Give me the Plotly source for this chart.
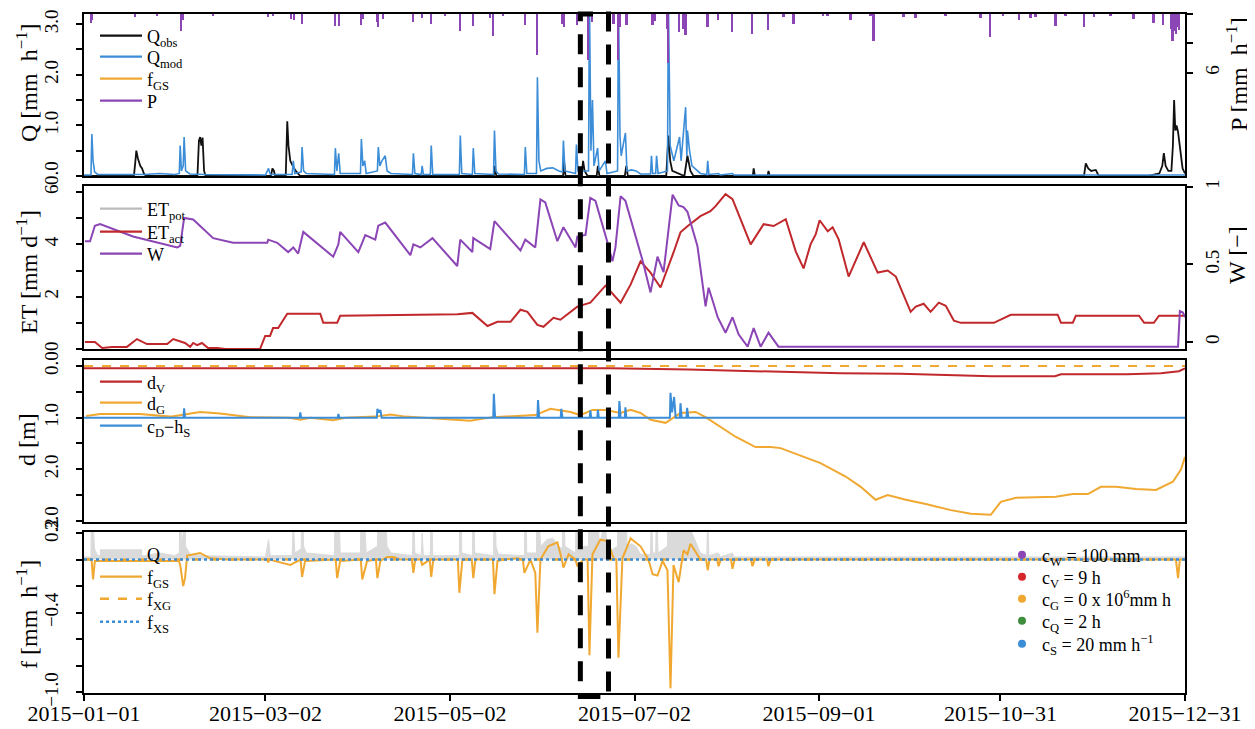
import pandas as pd
import plotly.graph_objects as go

BASE = pd.Timestamp("2015-01-01")

# ---------------- data (day of year offset from 2015-01-01, value) ----------------
qmod = [(0, 0.02), (2.3, 0.02), (2.6, 0.83), (3.0, 0.3), (3.5, 0.08), (4.5, 0.03), (20, 0.03), (25, 0.05), (30, 0.03),
        (31.5, 0.05), (31.8, 0.6), (32.2, 0.1), (32.8, 0.2), (33.1, 0.77), (33.6, 0.1), (35, 0.04), (40, 0.03), (60, 0.02),
        (61, 0.15), (61.6, 0.03), (68.8, 0.03), (69.2, 0.3), (69.7, 0.05), (71.8, 0.08), (72.1, 0.57), (72.6, 0.1), (73.5, 0.05),
        (82.8, 0.03), (83.1, 0.55), (83.6, 0.1), (84.2, 0.45), (84.7, 0.05), (91.4, 0.05), (91.7, 0.73), (92.2, 0.2), (92.8, 0.3),
        (93.3, 0.05), (97.0, 0.1), (97.3, 0.57), (97.8, 0.2), (98.5, 0.3), (99.6, 0.4), (100.2, 0.1), (101.5, 0.05), (108.6, 0.03),
        (108.9, 0.45), (109.4, 0.05), (111.5, 0.03), (111.8, 0.2), (112.2, 0.03), (114.5, 0.03), (114.8, 0.6), (115.3, 0.03),
        (124.1, 0.03), (124.4, 0.8), (124.9, 0.05), (128.4, 0.03), (128.7, 0.55), (129.2, 0.05), (135.4, 0.03), (135.7, 0.9),
        (136.2, 0.1), (137, 0.04), (145.6, 0.03), (145.9, 0.57), (146.4, 0.05), (149.6, 0.05), (149.9, 1.95), (150.4, 0.3),
        (151, 0.1), (153, 0.15), (155, 0.16), (157, 0.1), (158.2, 0.08), (158.5, 0.7), (159, 0.1), (162.5, 0.05), (162.8, 0.62),
        (163.3, 0.1), (166.8, 0.1), (167.1, 3.5), (167.6, 0.5), (168.1, 1.5), (168.6, 0.2), (169.8, 0.55), (170.3, 0.1),
        (172.4, 0.3), (172.9, 0.05), (176.4, 0.1), (176.7, 3.5), (177.2, 0.8), (177.6, 0.4), (179.0, 0.85), (179.5, 0.1),
        (181, 0.12), (182.5, 0.1), (184, 0.04), (187.3, 0.04), (187.6, 0.4), (188, 0.05), (189.0, 0.05), (189.3, 0.4),
        (189.8, 0.05), (192.9, 0.1), (193.2, 3.5), (193.8, 0.6), (195, 0.3), (196.9, 0.77), (197.4, 0.3), (198.9, 1.36),
        (199.3, 0.4), (199.5, 0.9), (200.2, 0.5), (201, 0.2), (203.8, 0.05), (205.9, 0.03), (206.2, 0.3), (206.6, 0.03),
        (209.8, 0.05), (210.3, 0.02), (214.4, 0.05), (214.9, 0.02), (364, 0.02)]

qobs = [(0, 0.0), (16.5, 0.0), (17.0, 0.3), (17.3, 0.5), (17.8, 0.35), (18.2, 0.25), (18.6, 0.2), (19.2, 0.15), (19.8, 0.05),
        (20.5, 0.0), (37.5, 0.0), (38.0, 0.7), (38.4, 0.77), (38.8, 0.6), (39.2, 0.76), (39.7, 0.1), (40.2, 0.0),
        (61.8, 0.0), (62.3, 0.15), (62.8, 0.1), (63.2, 0.0), (66.7, 0.0), (67.2, 1.08), (67.6, 0.6), (68.2, 0.3), (69, 0.2),
        (70, 0.1), (71.5, 0.0), (135.5, 0.0), (135.8, 0.2), (136.3, 0.0), (158.4, 0.0), (158.7, 0.3), (159.2, 0.0),
        (164.5, 0.0), (165.0, 0.3), (165.5, 0.1), (166.5, 0.0), (169.5, 0.0), (169.9, 0.2), (170.4, 0.0), (178.8, 0.0),
        (179.3, 0.2), (179.8, 0.0), (192.5, 0.0), (193.2, 0.8), (193.8, 0.3), (194.5, 0.1), (198.5, 0.0), (199.5, 0.4),
        (200.5, 0.1), (201.5, 0.0), (221.1, 0.0), (221.4, 0.15), (221.8, 0.0), (226.0, 0.0), (226.3, 0.1), (226.7, 0.0),
        (330.6, 0.0), (331.2, 0.25), (332, 0.15), (333, 0.1), (334.5, 0.12), (335.5, 0.0), (352, 0.0), (355.5, 0.05),
        (356.5, 0.2), (357.0, 0.45), (357.6, 0.2), (358.5, 0.1), (359.5, 0.1), (360.0, 0.6), (360.4, 1.5), (360.8, 0.9),
        (361.2, 1.0), (361.7, 0.87), (362.2, 0.6), (362.6, 0.4), (363.2, 0.15), (364.0, 0.05)]

precip = [(2.3, 0.9), (2.6, 0.6), (16.9, 0.3), (24.2, 0.2), (32.1, 1.7), (32.8, 0.6), (42.7, 0.2), (60.9, 0.3), (62.5, 0.2),
          (68.5, 0.5), (69.5, 0.6), (72.1, 1.0), (83.1, 1.2), (84.4, 1.2), (91.7, 1.1), (92.3, 0.5), (97.0, 0.8), (97.3, 1.3),
          (98.9, 0.5), (108.9, 0.8), (111.8, 0.4), (114.8, 1.0), (119.5, 0.2), (124.4, 1.7), (128.7, 1.2), (134.3, 0.4),
          (135.3, 2.2), (138.7, 0.2), (145.9, 1.1), (149.9, 4.2), (158.2, 1.0), (158.8, 1.3), (163.1, 1.1), (166.8, 4.7),
          (168.1, 0.8), (173.1, 0.5), (175.1, 1.0), (176.7, 4.7), (177.4, 1.3), (179.4, 1.1), (188.0, 1.1), (188.9, 0.7),
          (192.9, 1.5), (193.2, 5.0), (196.9, 1.8), (198.2, 1.5), (198.9, 2.1), (206.2, 1.3), (209.8, 0.6), (214.4, 1.8),
          (221.0, 2.0), (226.3, 1.6), (231.3, 0.3), (234.6, 1.0), (244.5, 0.2), (245.9, 0.2), (253.5, 0.6), (260.1, 0.2),
          (261.1, 2.7), (271.0, 0.3), (275.0, 0.4), (284.9, 0.2), (296.5, 0.4), (299.5, 2.3), (303.8, 0.2), (309.1, 0.6),
          (313.0, 0.4), (314.7, 0.3), (321.3, 1.2), (324.6, 0.2), (330.6, 1.3), (333.9, 0.3), (339.5, 0.2), (347.1, 0.5),
          (353.7, 0.9), (356.7, 1.1), (359.4, 1.5), (360.0, 2.7), (360.4, 1.7), (361.0, 2.0), (361.7, 1.3), (362.0, 1.6)]

wsat = [(0.3, 0.65), (2.0, 0.65), (3.6, 0.75), (5.3, 0.76), (16.2, 0.68), (30.8, 0.61), (31.8, 0.62), (33.1, 0.80),
        (36.1, 0.79), (42.7, 0.67), (49.3, 0.64), (60.6, 0.64), (60.9, 0.66), (63.9, 0.64), (67.5, 0.58), (69.2, 0.61),
        (70.8, 0.57), (72.5, 0.71), (82.4, 0.55), (84.1, 0.63), (84.7, 0.71), (90.7, 0.58), (93.0, 0.69), (94.0, 0.68),
        (96.3, 0.66), (97.3, 0.75), (99.6, 0.77), (107.9, 0.56), (108.9, 0.63), (111.2, 0.61), (115.2, 0.67), (123.4, 0.49),
        (124.4, 0.66), (128.4, 0.58), (128.7, 0.67), (134.3, 0.60), (135.7, 0.78), (144.3, 0.59), (145.9, 0.66),
        (149.2, 0.61), (150.9, 0.92), (152.5, 0.90), (156.5, 0.65), (158.5, 0.74), (162.5, 0.61), (163.1, 0.68),
        (165.8, 0.69), (167.4, 0.93), (169.1, 0.91), (173.1, 0.64), (174.7, 0.52), (175.7, 0.61), (177.4, 0.94),
        (179.0, 0.91), (181.7, 0.73), (184.6, 0.53), (187.3, 0.32), (189.6, 0.55), (191.6, 0.45), (194.6, 0.95),
        (196.6, 0.88), (198.2, 0.87), (199.5, 0.84), (202.8, 0.62), (205.5, 0.23), (206.5, 0.35), (208.1, 0.25),
        (209.5, 0.16), (212.1, 0.06), (214.4, 0.16), (216.4, 0.05), (219.4, -0.03), (221.4, 0.09), (223.7, -0.03),
        (226.3, 0.06), (229.6, -0.03), (361.7, -0.03), (362.3, 0.2), (363.3, 0.19), (364.0, 0.16)]

et_act = [(0.3, 0.27), (3.6, 0.27), (6.0, 0.04), (9.3, 0.08), (14.2, 0.08), (17.5, 0.38), (20.8, 0.19), (27.5, 0.19),
          (29.5, 0.38), (33.4, 0.23), (35.1, 0.08), (36.1, 0.23), (37.4, 0.15), (39.0, 0.23), (41.0, 0.04), (44.0, 0.04),
          (46.7, 0.0), (58.2, 0.0), (59.9, 0.5), (61.5, 0.5), (62.5, 0.8), (64.2, 0.8), (67.2, 1.35), (78.1, 1.35),
          (79.1, 1.0), (83.7, 1.0), (84.7, 1.27), (111.2, 1.33), (123.4, 1.33), (128.4, 1.38), (133.4, 0.88), (136.7, 1.04),
          (141.0, 1.04), (144.3, 1.5), (146.6, 1.42), (149.9, 0.92), (151.9, 0.85), (155.2, 1.19), (157.5, 1.12),
          (163.1, 1.62), (167.4, 1.77), (172.4, 2.42), (177.4, 1.77), (180.7, 2.46), (184.0, 3.35), (187.3, 2.92),
          (190.6, 2.35), (194.9, 3.69), (197.2, 4.46), (199.5, 4.69), (203.8, 5.08), (207.1, 5.27), (208.8, 5.46),
          (212.1, 5.92), (214.4, 5.73), (220.4, 4.0), (224.7, 4.77), (228.0, 4.7), (232.0, 4.96), (235.3, 3.73),
          (237.9, 3.08), (240.2, 4.0), (241.9, 4.38), (243.2, 4.92), (245.9, 4.5), (247.5, 4.65), (249.5, 4.19),
          (252.8, 2.77), (254.5, 3.23), (257.8, 4.08), (262.4, 2.92), (265.7, 3.0), (268.4, 2.77), (273.3, 1.42),
          (275.0, 1.62), (277.6, 1.73), (279.9, 1.42), (282.6, 1.77), (284.9, 1.65), (287.6, 1.08), (289.9, 1.0),
          (300.8, 1.0), (306.4, 1.31), (321.9, 1.31), (323.0, 1.0), (326.9, 1.0), (327.9, 1.27), (348.8, 1.27),
          (350.5, 1.0), (353.7, 1.0), (355.4, 1.27), (364.0, 1.27)]

d_v = [(0, 0.045), (174, 0.045), (200, 0.07), (230, 0.11), (250, 0.14), (270, 0.15), (290, 0.19), (300, 0.2), (321, 0.2),
       (323, 0.16), (345, 0.16), (356, 0.14), (362, 0.1), (364, 0.045)]

d_g = [(0.7, 0.97), (5.3, 0.93), (18.5, 0.93), (28.5, 0.98), (38.4, 0.89), (45, 0.92), (55, 0.99), (68, 1.0), (71.5, 1.04),
       (74.8, 1.0), (82.4, 1.05), (86.4, 1.0), (96.3, 0.98), (101.3, 0.94), (106.2, 0.98), (111.2, 1.0), (121.1, 1.04),
       (127.7, 1.06), (135.0, 0.99), (149.2, 0.95), (154.2, 0.83), (160.8, 0.89), (164.1, 0.95), (168.1, 0.85),
       (172.4, 0.85), (177.4, 0.91), (180.7, 0.85), (184.0, 0.91), (187.3, 1.04), (192.3, 1.1), (197.2, 0.91),
       (202.2, 0.89), (205.5, 0.99), (210.5, 1.18), (215.4, 1.37), (222.0, 1.57), (227.0, 1.57), (230.3, 1.59),
       (236.9, 1.74), (243.5, 1.88), (251.8, 2.14), (256.8, 2.34), (261.7, 2.59), (265.7, 2.5), (271.7, 2.59),
       (278.3, 2.67), (286.6, 2.79), (293.2, 2.86), (299.8, 2.88), (303.1, 2.63), (308.1, 2.55), (321.3, 2.53),
       (326.9, 2.48), (331.9, 2.48), (336.2, 2.34), (341.2, 2.34), (347.8, 2.38), (354.4, 2.4), (360.0, 2.24),
       (362.7, 2.0), (364.0, 1.76)]

cd_hs = [(0, 1.0), (32.9, 1.0), (33.1, 0.82), (33.4, 1.0), (71.3, 1.0), (71.5, 0.9), (71.8, 1.0), (83.9, 1.0), (84.1, 0.93),
         (84.4, 1.0), (96.8, 1.0), (97.0, 0.83), (97.5, 0.9), (98.0, 0.85), (98.4, 1.0), (135.3, 1.0), (135.5, 0.54),
         (135.9, 1.0), (149.9, 1.0), (150.1, 0.66), (150.5, 1.0), (157.6, 1.0), (157.8, 0.83), (158.2, 1.0), (167.2, 1.0),
         (167.4, 0.86), (167.7, 1.0), (169.7, 1.0), (169.9, 0.85), (170.2, 1.0), (176.8, 1.0), (177.0, 0.68), (177.4, 1.0),
         (178.8, 1.0), (179.0, 0.8), (179.3, 1.0), (193.7, 1.0), (193.9, 0.52), (194.4, 0.9), (195.1, 0.6), (195.6, 1.0),
         (197.0, 1.0), (197.2, 0.72), (197.6, 1.0), (199.2, 1.0), (199.4, 0.81), (199.8, 1.0), (364, 1.0)]

f_gs = [(0, 0.0), (2.5, 0.0), (3.0, -0.15), (3.6, -0.01), (31.4, -0.01), (31.8, -0.04), (32.8, -0.2), (33.4, -0.14),
        (34.1, 0.03), (38.4, 0.05), (41.7, 0.01), (47.3, 0.0), (60.5, 0.0), (60.9, -0.02), (61.3, 0.0), (68.2, -0.04),
        (71.6, 0.0), (72.1, -0.13), (73.1, -0.01), (83.2, 0.0), (83.7, -0.14), (84.7, -0.01), (91.5, 0.0), (92.0, -0.15),
        (93.6, -0.01), (96.5, 0.0), (97.0, -0.14), (98.0, -0.01), (100.3, 0.02), (102.3, 0.02), (104.6, 0.0), (108.4, 0.0),
        (108.9, -0.1), (109.5, 0.0), (111.3, 0.0), (111.8, -0.04), (114.3, 0.0), (114.8, -0.13), (115.5, 0.0),
        (123.6, 0.0), (124.1, -0.25), (125.1, 0.0), (128.2, 0.0), (128.7, -0.14), (129.4, 0.0), (135.2, 0.0),
        (135.7, -0.26), (136.7, -0.01), (138.7, 0.0), (143.3, 0.01), (145.1, 0.0), (145.6, -0.1), (147.6, 0.0),
        (149.2, -0.1), (149.9, -0.55), (150.9, 0.0), (153.5, 0.1), (156.5, 0.13), (158.0, 0.0), (158.5, -0.06),
        (160.2, 0.04), (162.5, 0.0), (163.1, -0.05), (165.1, 0.0), (166.5, 0.0), (167.1, -0.72), (168.1, 0.04),
        (170.7, 0.15), (173.1, 0.14), (175.1, 0.01), (176.0, 0.0), (176.7, -0.74), (178.0, 0.01), (180.7, 0.16),
        (184.0, 0.1), (186.6, 0.0), (188.0, -0.11), (189.6, -0.12), (191.3, -0.01), (192.9, -0.08), (193.9, -0.97),
        (194.9, -0.04), (196.6, -0.17), (198.2, 0.07), (199.5, 0.04), (200.5, 0.12), (203.8, 0.0), (205.7, 0.0),
        (206.2, -0.08), (206.8, 0.0), (209.3, 0.0), (209.8, -0.05), (210.5, 0.0), (213.9, 0.0), (214.4, -0.07),
        (215.1, 0.0), (220.5, 0.0), (221.0, -0.05), (221.7, 0.0), (225.8, 0.0), (226.3, -0.05), (227.0, 0.0),
        (361.0, 0.0), (361.7, -0.14), (362.3, 0.0), (364.0, 0.0)]

f_xg = [(0, 0.0), (364, 0.0)]
f_xs = [(0, 0.0), (364, 0.0)]
d_ref = [(0, 0.0), (364, 0.0)]

xtick_dates = ["2015-01-01", "2015-03-02", "2015-05-02", "2015-07-02", "2015-09-01", "2015-10-31", "2015-12-31"]
xtick_text = ["2015\u221201\u221201", "2015\u221203\u221202", "2015\u221205\u221202", "2015\u221207\u221202",
              "2015\u221209\u221201", "2015\u221210\u221231", "2015\u221212\u221231"]
q_ticks = [0, 0.5, 1.0, 1.5, 2.0, 2.5, 3.0]
q_text = ["0.0", "", "1.0", "", "2.0", "", "3.0"]
p_ticks = [0, 3, 6]
p_text = ["0", "", "6"]
et_ticks = [0, 1, 2, 3, 4, 5, 6]
et_text = ["0", "", "2", "", "4", "", "6"]
w_ticks = [0, 0.5, 1]
w_text = ["0", "0.5", "1"]
d_ticks = [0, 0.5, 1.0, 1.5, 2.0, 2.5, 3.0]
d_text = ["0.0", "", "1.0", "", "2.0", "", "3.0"]
f_ticks = [0.2, 0.0, -0.2, -0.4, -0.6, -0.8, -1.0]
f_text = ["0.2", "", "", "\u22120.4", "", "", "\u22121.0"]
window = [164.1, 173.4]

param_labels = ["c<sub>W</sub> = 100 mm", "c<sub>V</sub> = 9 h", "c<sub>G</sub> = 0 x 10<sup>6</sup>mm h",
                "c<sub>Q</sub> = 2 h", "c<sub>S</sub> = 20 mm h<sup>\u22121</sup>"]
param_colors = ["#8B45B5", "#D7262B", "#F0A830", "#3E8E3E", "#3C8DD8"]

# ---------------- helpers ----------------
def xs(series):
    return [BASE + pd.Timedelta(days=float(d)) for d, _ in series]

def ys(series):
    return [v for _, v in series]

C_BLACK = "#111111"
C_BLUE = "#3C8DD8"
C_ORANGE = "#F0A830"
C_PURPLE = "#8B45B5"
C_RED = "#C0282B"
C_GRAY = "#DADADA"
FONT = "Liberation Serif"

# page has an 8px body margin: the figure is sized so the plot area lands at x 84..1185, y 14..693 in the window
OFF = 8
PLOT_L, PLOT_T, PLOT_W, PLOT_H = 84, 14, 1101, 679

def px_x(px):
    return (px - PLOT_L) / PLOT_W

def px_y(py):
    return (PLOT_T + PLOT_H - py) / PLOT_H

fig = go.Figure()
legend_layouts = {}
legend_count = [0]

def new_legend(xpx, ypx, itemwidth=42, bg="rgba(0,0,0,0)"):
    legend_count[0] += 1
    key = "legend" if legend_count[0] == 1 else "legend%d" % legend_count[0]
    legend_layouts[key] = dict(x=px_x(xpx), y=px_y(ypx), xanchor="left", yanchor="middle", bgcolor=bg,
                               font=dict(size=18, family=FONT), itemwidth=itemwidth, borderwidth=0,
                               tracegroupgap=0)
    return key

def legend_line(name, color, xaxis, yaxis, ypx, width=2.2, dash="solid"):
    fig.add_trace(go.Scatter(x=[None], y=[None], mode="lines", line=dict(color=color, width=width, dash=dash),
                             name=name, xaxis=xaxis, yaxis=yaxis, legend=new_legend(95, ypx)))

# ---- panel 1 ----
fig.add_trace(go.Scatter(x=xs(qobs), y=ys(qobs), mode="lines", line=dict(color=C_BLACK, width=1.8),
                         xaxis="x", yaxis="y", showlegend=False))
fig.add_trace(go.Scatter(x=xs(qmod), y=ys(qmod), mode="lines", line=dict(color=C_BLUE, width=1.6),
                         xaxis="x", yaxis="y", showlegend=False))
fig.add_trace(go.Bar(x=xs(precip), y=ys(precip), marker=dict(color=C_PURPLE, line=dict(width=0)),
                     width=0.6 * 86400000, xaxis="x", yaxis="y2", showlegend=False))
for (nm, col), ypx in zip([("Q<sub>obs</sub>", C_BLACK), ("Q<sub>mod</sub>", C_BLUE), ("f<sub>GS</sub>", C_ORANGE),
                           ("P", C_PURPLE)], [36, 57, 79, 101]):
    legend_line(nm, col, "x", "y", ypx)

# ---- panel 2 ----
fig.add_trace(go.Scatter(x=xs(et_act), y=ys(et_act), mode="lines", line=dict(color=C_RED, width=2),
                         xaxis="x2", yaxis="y3", showlegend=False))
fig.add_trace(go.Scatter(x=xs(wsat), y=ys(wsat), mode="lines", line=dict(color=C_PURPLE, width=2),
                         xaxis="x2", yaxis="y4", showlegend=False))
for (nm, col), ypx in zip([("ET<sub>pot</sub>", "#BBBBBB"), ("ET<sub>act</sub>", C_RED), ("W", C_PURPLE)],
                          [209, 232, 254]):
    legend_line(nm, col, "x2", "y3", ypx)

# ---- panel 3 ----
fig.add_trace(go.Scatter(x=xs(d_ref), y=ys(d_ref), mode="lines", line=dict(color=C_ORANGE, width=2, dash="dash"),
                         xaxis="x3", yaxis="y5", showlegend=False))
fig.add_trace(go.Scatter(x=xs(d_v), y=ys(d_v), mode="lines", line=dict(color=C_RED, width=2),
                         xaxis="x3", yaxis="y5", showlegend=False))
fig.add_trace(go.Scatter(x=xs(d_g), y=ys(d_g), mode="lines", line=dict(color=C_ORANGE, width=2),
                         xaxis="x3", yaxis="y5", showlegend=False))
fig.add_trace(go.Scatter(x=xs(cd_hs), y=ys(cd_hs), mode="lines", line=dict(color=C_BLUE, width=2),
                         xaxis="x3", yaxis="y5", showlegend=False))
for (nm, col), ypx in zip([("d<sub>V</sub>", C_RED), ("d<sub>G</sub>", C_ORANGE),
                           ("c<sub>D</sub>\u2212h<sub>S</sub>", C_BLUE)], [382, 403, 426]):
    legend_line(nm, col, "x3", "y5", ypx)

# ---- panel 4 ----
fig.add_trace(go.Scatter(x=xs(qmod), y=ys(qmod), mode="lines", line=dict(color=C_GRAY, width=1),
                         fill="tozeroy", fillcolor=C_GRAY, xaxis="x4", yaxis="y6", showlegend=False))
fig.add_trace(go.Scatter(x=xs(f_gs), y=ys(f_gs), mode="lines", line=dict(color=C_ORANGE, width=2),
                         xaxis="x4", yaxis="y6", showlegend=False))
fig.add_trace(go.Scatter(x=xs(f_xg), y=ys(f_xg), mode="lines", line=dict(color=C_ORANGE, width=2.5, dash="dash"),
                         xaxis="x4", yaxis="y6", showlegend=False))
fig.add_trace(go.Scatter(x=xs(f_xs), y=ys(f_xs), mode="lines", line=dict(color=C_BLUE, width=2.5, dash="dot"),
                         xaxis="x4", yaxis="y6", showlegend=False))
for (nm, col, wd, ds), ypx in zip([("Q", C_GRAY, 9, "solid"), ("f<sub>GS</sub>", C_ORANGE, 2.2, "solid"),
                                   ("f<sub>XG</sub>", C_ORANGE, 2.5, "dash"), ("f<sub>XS</sub>", C_BLUE, 2.5, "dot")],
                                  [554, 577, 599, 622]):
    legend_line(nm, col, "x4", "y6", ypx, width=wd, dash=ds)
for lab, col, ypx in zip(param_labels, param_colors, [555, 577, 599, 621, 644]):
    fig.add_trace(go.Scatter(x=[None], y=[None], mode="markers", marker=dict(color=col, size=8), name=lab,
                             xaxis="x4", yaxis="y6", legend=new_legend(1002, ypx, itemwidth=30)))

# ---------------- layout ----------------
xr = [BASE, pd.Timestamp("2015-12-31")]
frame = dict(showgrid=False, zeroline=False, showline=True, linecolor="black", linewidth=2, mirror=True,
             automargin=False)
yt = dict(ticks="outside", ticklen=6, tickwidth=1.5, tickcolor="black", tickangle=-90,
          tickfont=dict(size=19, family=FONT), ticklabelstandoff=10)

def xaxis_cfg(anchor, show):
    d = dict(frame, anchor=anchor, domain=[0, 1], range=xr, type="date")
    if show:
        d.update(tickvals=xtick_dates, ticktext=xtick_text, ticks="outside", ticklen=6, tickwidth=1.5,
                 tickcolor="black", tickfont=dict(size=22, family=FONT), ticklabelstandoff=-6)
    else:
        d.update(showticklabels=False, ticks="")
    return d

right_axis = dict(yt, showgrid=False, zeroline=False, showline=True, linecolor="black", linewidth=2,
                  side="right", automargin=False, ticklabelstandoff=3)

fig.update_layout(
    width=1255 - OFF, height=729 - OFF,
    margin=dict(l=PLOT_L - OFF, r=1255 - PLOT_L - PLOT_W, t=PLOT_T - OFF, b=729 - PLOT_T - PLOT_H, autoexpand=False),
    paper_bgcolor="white", plot_bgcolor="white",
    font=dict(family=FONT, size=18, color="black"),
    bargap=0,
    xaxis=xaxis_cfg("y", False),
    xaxis2=xaxis_cfg("y3", False),
    xaxis3=xaxis_cfg("y5", False),
    xaxis4=xaxis_cfg("y6", True),
    yaxis=dict(frame, **yt, domain=[px_y(176), px_y(14)], anchor="x", range=[0, 3.2], tickvals=q_ticks, ticktext=q_text),
    yaxis2=dict(right_axis, overlaying="y", anchor="x", range=[16.5, 0], tickvals=p_ticks, ticktext=p_text),
    yaxis3=dict(frame, **yt, domain=[px_y(349), px_y(186)], anchor="x2", range=[0, 6.23], tickvals=et_ticks,
                ticktext=et_text),
    yaxis4=dict(right_axis, overlaying="y3", anchor="x2", range=[-0.045, 1.006], tickvals=w_ticks, ticktext=w_text),
    yaxis5=dict(frame, **yt, domain=[px_y(522), px_y(360)], anchor="x3", range=[3.02, -0.116], tickvals=d_ticks,
                ticktext=d_text),
    yaxis6=dict(frame, **yt, domain=[0, px_y(532)], anchor="x4", range=[-1.005, 0.208], tickvals=f_ticks,
                ticktext=f_text),
    **legend_layouts,
)

# dashed window rectangle
fig.add_shape(type="rect", xref="x4", yref="paper",
              x0=BASE + pd.Timedelta(days=window[0]), x1=BASE + pd.Timedelta(days=window[1]),
              y0=-0.005, y1=1.0, line=dict(color="black", width=5, dash="20px,13px"), layer="above")

# axis titles
titles = [
    ("Q [mm\u00a0\u00a0h<sup>\u22121</sup>]", 27, 83),
    ("ET [mm d<sup>\u22121</sup>]", 27, 272),
    ("d [m]", 27, 440),
    ("f [mm\u00a0\u00a0h<sup>\u22121</sup>]", 27, 615),
    ("P [mm\u00a0\u00a0h<sup>\u22121</sup>]", 1237, 74),
    ("W [\u2212]", 1237, 255),
]
for txt, tx, ty in titles:
    fig.add_annotation(text=txt, xref="paper", yref="paper", x=px_x(tx), y=px_y(ty), xanchor="center",
                       yanchor="middle", textangle=-90, showarrow=False, font=dict(size=24, family=FONT))

fig.write_html("out.html")
